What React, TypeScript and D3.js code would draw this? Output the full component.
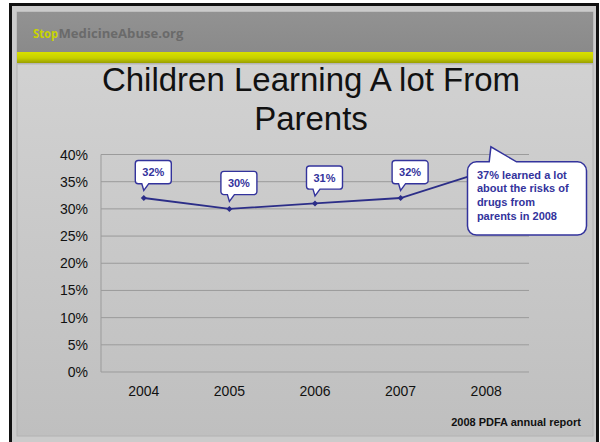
import React, { useEffect } from "react";
import * as d3 from "d3";

const years = ["2004", "2005", "2006", "2007", "2008"];
const values = [32, 30, 31, 32, 37];
const yTickValues = [0, 5, 10, 15, 20, 25, 30, 35, 40];
const titleLines = ["Children Learning A lot From", "Parents"];
const calloutLines = ["37% learned a lot", "about the risks of", "drugs from", "parents in 2008"];
const sourceText = "2008 PDFA annual report";

const W = 600;
const H = 442;
const NAVY = "#2c2e88";
const LABEL = "#33339c";
const FONT = "'Liberation Sans', Arial, sans-serif";

function bottomCallout(x0: number, y0: number, x1: number, y1: number, r: number, ta: number, tb: number, tx: number, ty: number) {
  const p = d3.path();
  p.moveTo(x0 + r, y0);
  p.lineTo(x1 - r, y0);
  p.arcTo(x1, y0, x1, y0 + r, r);
  p.lineTo(x1, y1 - r);
  p.arcTo(x1, y1, x1 - r, y1, r);
  p.lineTo(tb, y1);
  p.lineTo(tx, ty);
  p.lineTo(ta, y1);
  p.lineTo(x0 + r, y1);
  p.arcTo(x0, y1, x0, y1 - r, r);
  p.lineTo(x0, y0 + r);
  p.arcTo(x0, y0, x0 + r, y0, r);
  p.closePath();
  return p.toString();
}

function topCallout(x0: number, y0: number, x1: number, y1: number, r: number, ta: number, tb: number, tx: number, ty: number) {
  const p = d3.path();
  p.moveTo(x0 + r, y0);
  p.lineTo(ta, y0);
  p.lineTo(tx, ty);
  p.lineTo(tb, y0);
  p.lineTo(x1 - r, y0);
  p.arcTo(x1, y0, x1, y0 + r, r);
  p.lineTo(x1, y1 - r);
  p.arcTo(x1, y1, x1 - r, y1, r);
  p.lineTo(x0 + r, y1);
  p.arcTo(x0, y1, x0, y1 - r, r);
  p.lineTo(x0, y0 + r);
  p.arcTo(x0, y0, x0 + r, y0, r);
  p.closePath();
  return p.toString();
}

export default function App() {
  useEffect(() => {
    document.body.style.margin = "0";
  }, []);

  const x = d3.scaleBand<string>().domain(years).range([101, 529]).padding(0);
  const cx = (d: string) => (x(d) as number) + x.bandwidth() / 2;
  const y = d3.scaleLinear().domain([0, 40]).range([372, 154.5]);
  const fmt = (v: number) => `${v}%`;

  const pts = years.map((yr, i) => ({ yr, v: values[i], px: cx(yr), py: y(values[i]) }));
  const line = d3.line<{ px: number; py: number }>().x((d) => d.px).y((d) => d.py);

  const last = pts[pts.length - 1];
  const small = pts.slice(0, pts.length - 1);

  return (
    <svg width={W} height={H} style={{ position: "fixed", left: 0, top: 0, display: "block" }}>
      <defs>
        <linearGradient id="panel" x1="0" y1="0" x2="0" y2="1">
          <stop offset="0" stopColor="#d4d4d4" />
          <stop offset="1" stopColor="#bfbfbf" />
        </linearGradient>
        <linearGradient id="yel" x1="0" y1="0" x2="0" y2="1">
          <stop offset="0" stopColor="#d9e000" />
          <stop offset="0.55" stopColor="#c6cf00" />
          <stop offset="1" stopColor="#9aa000" />
        </linearGradient>
        <linearGradient id="hdr" x1="0" y1="0" x2="0" y2="1">
          <stop offset="0" stopColor="#929292" />
          <stop offset="1" stopColor="#8a8a8a" />
        </linearGradient>
      </defs>
      <rect x={0} y={0} width={W} height={H} fill="#ffffff" />
      <rect x={10.5} y={4.5} width={587} height={450} fill="#cbcbcb" stroke="#111" strokeWidth={3} />
      <rect x={17} y={12} width={576} height={424} fill="url(#panel)" stroke="#b2b2b2" strokeWidth={1} />
      <rect x={17} y={12} width={576} height={40} fill="url(#hdr)" />
      <rect x={17} y={52} width={576} height={11} fill="url(#yel)" />
      <rect x={17} y={63} width={576} height={1.5} fill="#b5b5b5" />
      <text x={33} y={38} fontFamily="'Open Sans', sans-serif" fontWeight="bold" fontSize={12} fill="#c8d400" textLength={25} lengthAdjust="spacingAndGlyphs">
        Stop
      </text>
      <text x={58.5} y={38} fontFamily="'Open Sans', sans-serif" fontWeight="bold" fontSize={12} fill="#6a6a6a" textLength={125} lengthAdjust="spacingAndGlyphs">
        MedicineAbuse.org
      </text>

      {titleLines.map((t, i) => (
        <text key={t} x={311} y={91 + i * 39} textAnchor="middle" fontFamily={FONT} fontSize={33} fill="#111">
          {t}
        </text>
      ))}

      {yTickValues.map((t) => (
        <g key={t}>
          <line x1={101} x2={529} y1={y(t)} y2={y(t)} stroke="#9b9b9b" strokeWidth={1} />
          <text x={88} y={y(t) + 5} textAnchor="end" fontFamily={FONT} fontSize={14} fill="#111">
            {fmt(t)}
          </text>
        </g>
      ))}
      <line x1={101} x2={101} y1={y(40)} y2={y(0)} stroke="#9b9b9b" strokeWidth={1} />
      {years.map((yr) => (
        <text key={yr} x={cx(yr)} y={396} textAnchor="middle" fontFamily={FONT} fontSize={14} fill="#111">
          {yr}
        </text>
      ))}

      <path d={line(pts) as string} fill="none" stroke={NAVY} strokeWidth={1.8} />
      {pts.map((p) => (
        <path key={p.yr} d={`M${p.px},${p.py - 3}L${p.px + 3},${p.py}L${p.px},${p.py + 3}L${p.px - 3},${p.py}Z`} fill={NAVY} />
      ))}

      {small.map((p) => {
        const x0 = p.px - 8.5;
        const x1 = p.px + 27.5;
        const y0 = p.py - 37.5;
        const y1 = p.py - 14.3;
        return (
          <g key={p.yr}>
            <path d={bottomCallout(x0, y0, x1, y1, 3, p.px - 2, p.px + 5, p.px, p.py - 7.5)} fill="#fff" stroke={LABEL} strokeWidth={1.4} />
            <text x={(x0 + x1) / 2} y={(y0 + y1) / 2 + 4} textAnchor="middle" fontFamily={FONT} fontWeight="bold" fontSize={11} fill={LABEL}>
              {fmt(p.v)}
            </text>
          </g>
        );
      })}

      <path
        d={topCallout(last.px - 18.7, last.py - 9, last.px + 100.3, last.py + 64.3, 9, last.px + 3, last.px + 30.3, last.px + 4.7, last.py - 24)}
        fill="#fff"
        stroke={LABEL}
        strokeWidth={1.5}
      />
      {calloutLines.map((t, i) => (
        <text key={t} x={last.px - 9.3} y={last.py + 7.8 + i * 13.7} fontFamily={FONT} fontWeight="bold" fontSize={11} fill={LABEL}>
          {t}
        </text>
      ))}

      <text x={581} y={426} textAnchor="end" fontFamily={FONT} fontWeight="bold" fontSize={11} fill="#111">
        {sourceText}
      </text>
    </svg>
  );
}
